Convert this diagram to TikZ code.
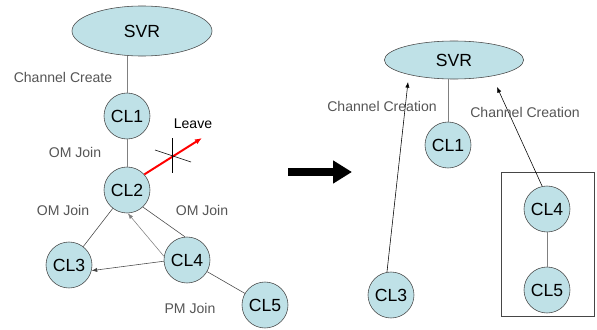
\documentclass[tikz,border=0pt]{standalone}
\usepackage{fontspec}
\setmainfont{Liberation Sans}
\usetikzlibrary{arrows.meta,shapes.geometric}
\definecolor{peer}{RGB}{191,225,231}
\definecolor{edge}{RGB}{70,70,70}
\definecolor{note}{RGB}{85,85,85}

\begin{document}
\begin{tikzpicture}[x=0.025cm,y=-0.025cm,
    client/.style={circle,draw=edge,fill=peer,minimum size=1.15cm,inner sep=0pt,font=\fontsize{12.5}{14}\selectfont},
    server/.style={ellipse,draw=edge,fill=peer,inner sep=0pt,font=\fontsize{12.5}{14}\selectfont},
    lbl/.style={text=note,font=\fontsize{10}{12}\selectfont},
    link/.style={draw=edge,thin},
    req/.style={draw=black,thin,-{Latex[length=4pt,width=3pt]}}]
   \useasboundingbox (0,0) rectangle (597,329);

   % before: one overlay tree
   \node[server,minimum width=3.5cm,minimum height=1.25cm] (svr) at (142,31) {SVR};
   \node[client] (cl1) at (127,116) {CL1};
   \node[client] (cl2) at (127,190) {CL2};
   \node[client] (cl3) at (69,265) {CL3};
   \node[client] (cl4) at (187,260) {CL4};
   \node[client] (cl5) at (265,305) {CL5};

   \draw[link,gray] (svr.south -| cl1) -- (cl1);
   \draw[link,gray] (cl1) -- (cl2);
   \draw[link] (cl2) -- (cl3);
   \draw[link] (cl2.-47) -- (cl4.95);
   \draw[link] (cl4) -- (cl5);
   \draw[req,gray] (cl4.171) -- (cl2.-88);
   \draw[req,edge] (cl4.183) -- (cl3.-14);

   \node[lbl] (create) at (63,77) {Channel Create};
   \node[lbl] (om1) at (75,152) {OM Join};
   \node[lbl] (om2) at (63,210) {OM Join};
   \node[lbl] (om3) at (202,210) {OM Join};
   \node[lbl] (pm) at (190,308) {PM Join};

   % CL2 leaves
   \coordinate (gone) at (202,138);
   \draw[red,line width=1.4pt,-{Latex[length=5pt,width=4pt]}] (cl2.42) -- (gone);
   \node[font=\fontsize{10}{12}\selectfont] (leave) at (193,124) {Leave};
   \draw (172,138) -- (172,173);
   \draw (155,150) -- (191,162);

   % transition
   \draw[line width=5pt,-{Triangle[length=13.5pt,width=15.6pt]}] (288,172) -- (352,172);

   % after: recovered channels
   \node[server,minimum width=3.48cm,minimum height=0.95cm] (svrb) at (454,60) {SVR};
   \node[client] (cl1b) at (448,145) {CL1};
   \node[client] (cl3b) at (391,295) {CL3};
   \node[client] (cl4b) at (547,209) {CL4};
   \node[client] (cl5b) at (547,290) {CL5};
   \draw[edge] (501,172) rectangle (594,316);

   \coordinate (hitl) at (408,82);
   \coordinate (hitr) at (497,87);
   \draw[link,gray] (cl1b.north) -- (cl1b.north |- svrb.south);
   \draw[link,gray] (cl4b) -- (cl5b);
   \draw[req] (cl3b.100) -- (hitl);
   \draw[req] (cl4b.102) -- (hitr);

   \node[lbl] (crl) at (382,106) {Channel Creation};
   \node[lbl] (crr) at (525,112) {Channel Creation};
\end{tikzpicture}
\end{document}
